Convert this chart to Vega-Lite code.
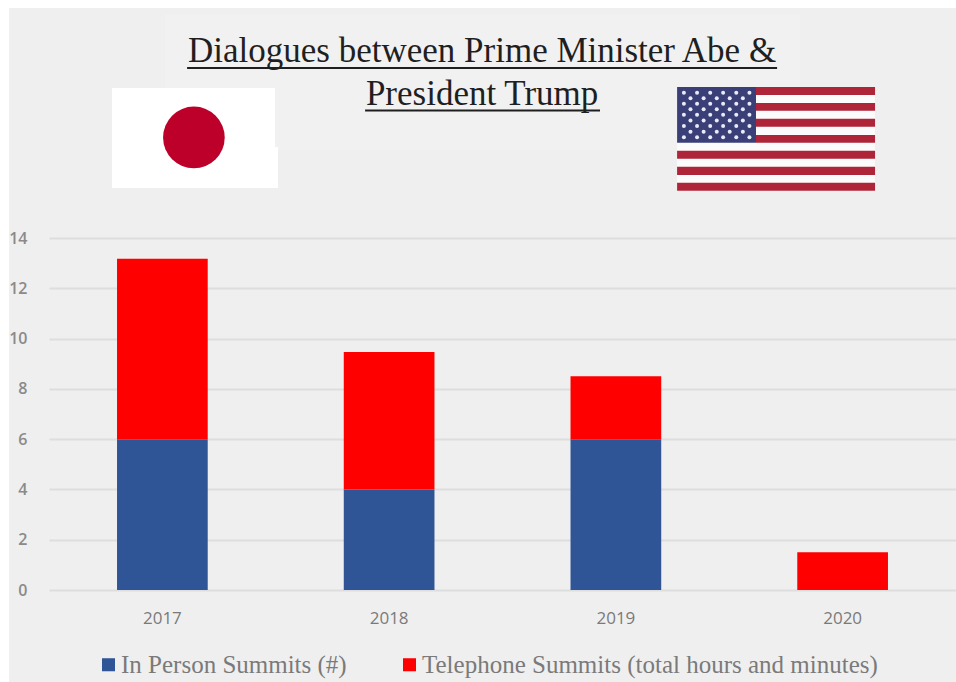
{
  "$schema": "https://vega.github.io/schema/vega-lite/v6.json",
  "width": 907,
  "height": 352,
  "autosize": "none",
  "padding": {"left": 49, "top": 238, "right": 0, "bottom": 92},
  "background": "#efefef",
  "datasets": {
    "summits": [
      {"year": "2017", "series": "In Person Summits (#)", "rank": 1, "value": 6},
      {"year": "2017", "series": "Telephone Summits (total hours and minutes)", "rank": 2, "value": 7.17},
      {"year": "2018", "series": "In Person Summits (#)", "rank": 1, "value": 4},
      {"year": "2018", "series": "Telephone Summits (total hours and minutes)", "rank": 2, "value": 5.47},
      {"year": "2019", "series": "In Person Summits (#)", "rank": 1, "value": 6},
      {"year": "2019", "series": "Telephone Summits (total hours and minutes)", "rank": 2, "value": 2.5},
      {"year": "2020", "series": "In Person Summits (#)", "rank": 1, "value": 0},
      {"year": "2020", "series": "Telephone Summits (total hours and minutes)", "rank": 2, "value": 1.5}
    ],
    "blocks": [
      {"part": "margin", "x": -0.22, "x2": -0.176, "y": 23.5, "y2": -3.7},
      {"part": "margin", "x": -0.22, "x2": 4.0, "y": 23.5, "y2": 23.15},
      {"part": "titlePatch", "x": 0.511, "x2": 3.312, "y": 22.9, "y2": 17.5},
      {"part": "japan", "x": 0.278, "x2": 0.997, "y": 19.97, "y2": 17.62},
      {"part": "japan", "x": 0.278, "x2": 1.01, "y": 17.62, "y2": 15.99},
      {"part": "usWhite", "x": 2.77, "x2": 3.643, "y": 20.01, "y2": 15.88},
      {"part": "usRed", "x": 3.118, "x2": 3.643, "y": 20.01, "y2": 19.69},
      {"part": "usRed", "x": 3.118, "x2": 3.643, "y": 19.37, "y2": 19.06},
      {"part": "usRed", "x": 3.118, "x2": 3.643, "y": 18.74, "y2": 18.42},
      {"part": "usRed", "x": 3.118, "x2": 3.643, "y": 18.1, "y2": 17.79},
      {"part": "usRed", "x": 2.77, "x2": 3.643, "y": 17.47, "y2": 17.15},
      {"part": "usRed", "x": 2.77, "x2": 3.643, "y": 16.83, "y2": 16.51},
      {"part": "usRed", "x": 2.77, "x2": 3.643, "y": 16.2, "y2": 15.88},
      {"part": "usBlue", "x": 2.77, "x2": 3.118, "y": 20.01, "y2": 17.79}
    ],
    "stars": [
      {"x": 2.8, "y": 19.78}, {"x": 2.858, "y": 19.78}, {"x": 2.916, "y": 19.78}, {"x": 2.973, "y": 19.78}, {"x": 3.031, "y": 19.78}, {"x": 3.089, "y": 19.78},
      {"x": 2.829, "y": 19.56}, {"x": 2.887, "y": 19.56}, {"x": 2.945, "y": 19.56}, {"x": 3.002, "y": 19.56}, {"x": 3.06, "y": 19.56},
      {"x": 2.8, "y": 19.34}, {"x": 2.858, "y": 19.34}, {"x": 2.916, "y": 19.34}, {"x": 2.973, "y": 19.34}, {"x": 3.031, "y": 19.34}, {"x": 3.089, "y": 19.34},
      {"x": 2.829, "y": 19.12}, {"x": 2.887, "y": 19.12}, {"x": 2.945, "y": 19.12}, {"x": 3.002, "y": 19.12}, {"x": 3.06, "y": 19.12},
      {"x": 2.8, "y": 18.9}, {"x": 2.858, "y": 18.9}, {"x": 2.916, "y": 18.9}, {"x": 2.973, "y": 18.9}, {"x": 3.031, "y": 18.9}, {"x": 3.089, "y": 18.9},
      {"x": 2.829, "y": 18.67}, {"x": 2.887, "y": 18.67}, {"x": 2.945, "y": 18.67}, {"x": 3.002, "y": 18.67}, {"x": 3.06, "y": 18.67},
      {"x": 2.8, "y": 18.45}, {"x": 2.858, "y": 18.45}, {"x": 2.916, "y": 18.45}, {"x": 2.973, "y": 18.45}, {"x": 3.031, "y": 18.45}, {"x": 3.089, "y": 18.45},
      {"x": 2.829, "y": 18.23}, {"x": 2.887, "y": 18.23}, {"x": 2.945, "y": 18.23}, {"x": 3.002, "y": 18.23}, {"x": 3.06, "y": 18.23},
      {"x": 2.8, "y": 18.01}, {"x": 2.858, "y": 18.01}, {"x": 2.916, "y": 18.01}, {"x": 2.973, "y": 18.01}, {"x": 3.031, "y": 18.01}, {"x": 3.089, "y": 18.01}
    ],
    "headline": [
      {"line": "Dialogues between Prime Minister Abe &", "x": 1.91, "y": 21.0, "x1": 0.609, "x2": 3.211, "rule": 20.76},
      {"line": "President Trump", "x": 1.91, "y": 19.29, "x1": 1.394, "x2": 2.43, "rule": 19.07}
    ],
    "sun": [{"x": 0.639, "y": 18.0}]
  },
  "layer": [
    {
      "data": {"name": "summits"},
      "mark": {"type": "bar", "stroke": null},
      "encoding": {
        "x": {
          "field": "year",
          "type": "nominal",
          "scale": {"paddingInner": 0.6, "paddingOuter": 0.3},
          "axis": {"title": null, "labelAngle": 0, "domain": false, "ticks": false, "labelPadding": 20, "labelFont": "Open Sans", "labelFontSize": 17, "labelColor": "#7a7a7a"}
        },
        "y": {
          "field": "value",
          "type": "quantitative",
          "stack": "zero",
          "title": null,
          "scale": {"domain": [0, 14], "nice": false},
          "axis": {"title": null, "values": [0, 2, 4, 6, 8, 10, 12, 14], "domain": false, "ticks": false, "labelPadding": 22, "labelFont": "Open Sans", "labelFontSize": 16, "labelFontWeight": 600, "labelColor": "#8a8a8a", "gridColor": "#dedede", "gridWidth": 2}
        },
        "color": {
          "field": "series",
          "type": "nominal",
          "scale": {"domain": ["In Person Summits (#)", "Telephone Summits (total hours and minutes)"], "range": ["#2f5597", "#ff0000"]},
          "legend": {"title": null, "orient": "none", "direction": "horizontal", "legendX": 47, "legendY": 414, "symbolType": "square", "symbolSize": 170, "symbolStrokeWidth": 0, "labelFont": "Liberation Serif", "labelFontSize": 25, "labelColor": "#7a7a7a", "labelLimit": 600, "columnPadding": 50, "labelOffset": 0}
        },
        "order": {"field": "rank", "type": "quantitative", "sort": "ascending"}
      }
    },
    {
      "data": {"name": "blocks"},
      "mark": {"type": "rect"},
      "encoding": {
        "x": {"field": "x", "type": "quantitative", "scale": {"domain": [0, 4], "nice": false, "zero": false}, "axis": null},
        "x2": {"field": "x2"},
        "y": {"field": "y", "type": "quantitative", "title": null},
        "y2": {"field": "y2"},
        "fill": {
          "field": "part",
          "type": "nominal",
          "scale": {"domain": ["margin", "titlePatch", "japan", "usWhite", "usRed", "usBlue"], "range": ["#ffffff", "#f1f1f1", "#ffffff", "#fbfbfb", "#ae2438", "#3b3f78"]},
          "legend": null
        },
        "order": {"field": "none"}
      }
    },
    {
      "data": {"name": "stars"},
      "mark": {"type": "point", "shape": "circle", "filled": true, "size": 16, "color": "#e9ebf7", "opacity": 1},
      "encoding": {
        "x": {"field": "x", "type": "quantitative", "scale": {"domain": [0, 4], "nice": false, "zero": false}, "axis": null},
        "y": {"field": "y", "type": "quantitative", "title": null}
      }
    },
    {
      "data": {"name": "sun"},
      "mark": {"type": "point", "shape": "circle", "filled": true, "size": 3800, "color": "#bc0029", "opacity": 1},
      "encoding": {
        "x": {"field": "x", "type": "quantitative", "scale": {"domain": [0, 4], "nice": false, "zero": false}, "axis": null},
        "y": {"field": "y", "type": "quantitative", "title": null}
      }
    },
    {
      "data": {"name": "headline"},
      "mark": {"type": "text", "font": "Liberation Serif", "fontSize": 35, "color": "#1f1f1f", "align": "center", "baseline": "alphabetic"},
      "encoding": {
        "x": {"field": "x", "type": "quantitative", "scale": {"domain": [0, 4], "nice": false, "zero": false}, "axis": null},
        "y": {"field": "y", "type": "quantitative", "title": null},
        "text": {"field": "line"}
      }
    },
    {
      "data": {"name": "headline"},
      "mark": {"type": "rule", "color": "#1f1f1f", "strokeWidth": 2},
      "encoding": {
        "x": {"field": "x1", "type": "quantitative", "scale": {"domain": [0, 4], "nice": false, "zero": false}, "axis": null},
        "x2": {"field": "x2"},
        "y": {"field": "rule", "type": "quantitative", "title": null}
      }
    }
  ],
  "resolve": {"scale": {"x": "independent", "fill": "independent", "color": "independent"}},
  "config": {"view": {"stroke": null}}
}
